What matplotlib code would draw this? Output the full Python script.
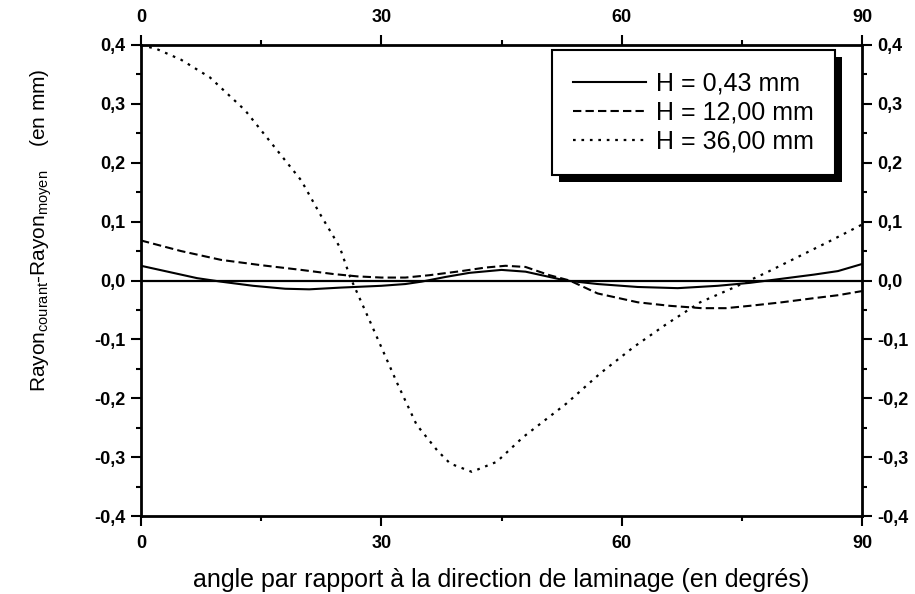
import numpy as np
import matplotlib
matplotlib.use("Agg")
from matplotlib import pyplot as plt
from matplotlib.ticker import MultipleLocator, FuncFormatter
from matplotlib.patches import Rectangle

plt.rcParams['font.family'] = ['Liberation Sans', 'DejaVu Sans']

# H = 0,43 mm
angle_h043 = [0, 3, 7, 10, 14, 18, 21, 25, 30, 33, 35, 38, 41, 45, 48, 51, 53,
              57, 62, 67, 72, 76, 80, 84, 87, 90]
ecart_h043 = [0.025, 0.016, 0.004, -0.002, -0.009, -0.014, -0.015, -0.012, -0.009,
              -0.006, -0.002, 0.006, 0.013, 0.018, 0.015, 0.006, 0.0,
              -0.006, -0.011, -0.013, -0.009, -0.004, 0.003, 0.010, 0.016, 0.028]

# H = 12,00 mm
angle_h12 = [0, 5, 10, 15, 20, 24, 27, 30, 33, 36, 40, 43, 45.5, 48, 51, 53.5,
             57, 62, 66, 70, 73, 76, 80, 84, 87, 90]
ecart_h12 = [0.068, 0.050, 0.035, 0.026, 0.018, 0.011, 0.007, 0.005, 0.005, 0.009,
             0.016, 0.022, 0.025, 0.023, 0.009, 0.0, -0.022, -0.037, -0.043,
             -0.047, -0.047, -0.043, -0.037, -0.030, -0.025, -0.018]

# H = 36,00 mm
angle_h36 = [0, 2, 5, 8.6, 13, 16, 20, 22.3, 24.8, 26.1, 28.6, 32, 34.4, 37, 38.6,
             41.3, 44.4, 47.7, 53.1, 57.3, 61.5, 65.6, 69.8, 74, 78, 82, 86, 90]
ecart_h36 = [0.400, 0.393, 0.375, 0.345, 0.289, 0.238, 0.170, 0.114, 0.057, 0.006,
             -0.070, -0.175, -0.245, -0.289, -0.311, -0.325, -0.308, -0.266,
             -0.209, -0.158, -0.113, -0.074, -0.037, -0.012, 0.013, 0.040,
             0.067, 0.095]

labels = ["H = 0,43 mm", "H = 12,00 mm", "H = 36,00 mm"]

fig = plt.figure(figsize=(9.15, 5.94), dpi=100)
ax = fig.add_axes([141 / 915, 1 - 516 / 594, 721 / 915, 471 / 594])

ax.axhline(0, color='black', lw=1.6, zorder=1)
ax.plot(angle_h043, ecart_h043, color='black', lw=1.5, ls='-', label=labels[0])
ax.plot(angle_h12, ecart_h12, color='black', lw=1.5, ls=(0, (4, 2)), label=labels[1])
ax.plot(angle_h36, ecart_h36, color='black', lw=1.6, ls=(0, (1.2, 2.6)), label=labels[2])

ax.set_xlim(0, 90)
ax.set_ylim(-0.4, 0.4)

comma = FuncFormatter(lambda v, p: f"{v:.1f}".replace('.', ','))
ax.xaxis.set_major_locator(MultipleLocator(30))
ax.xaxis.set_minor_locator(MultipleLocator(15))
ax.yaxis.set_major_locator(MultipleLocator(0.1))
ax.yaxis.set_minor_locator(MultipleLocator(0.05))
ax.yaxis.set_major_formatter(comma)

ax.tick_params(which='both', direction='out', top=True, right=True,
               labeltop=True, labelright=True, width=1.5, color='black')
ax.tick_params(which='major', length=7, labelsize=13)
ax.tick_params(which='minor', length=3.5)
ax.tick_params(axis='x', which='major', pad=7)
ax.tick_params(axis='y', which='major', pad=4)
for t in ax.xaxis.get_major_ticks() + ax.yaxis.get_major_ticks():
    t.label1.set_fontweight('bold')
    t.label2.set_fontweight('bold')
for sp in ax.spines.values():
    sp.set_linewidth(2.0)

ax.set_xlabel("angle par rapport à la direction de laminage (en degrés)",
              fontsize=18)
ax.xaxis.set_label_coords(0.5, -0.11)
ax.set_ylabel(r"Rayon$_{\mathregular{courant}}$-Rayon$_{\mathregular{moyen}}$    (en mm)",
              fontsize=15)
ax.yaxis.set_label_coords(-0.12, 0.607)

leg = ax.legend(loc='upper right', bbox_to_anchor=(0.9626, 0.989), fontsize=18,
                frameon=True, fancybox=False, handlelength=2.9, handletextpad=0.4,
                labelspacing=0.2, borderpad=0.85, borderaxespad=0,
                facecolor='white', framealpha=1)
leg.get_frame().set_edgecolor('black')
leg.get_frame().set_linewidth(1.5)
leg.set_zorder(10)

fig.canvas.draw()
bb = leg.get_window_extent()
shadow = Rectangle((bb.x0 + 7, bb.y0 - 7), bb.width, bb.height, transform=None,
                   facecolor='black', edgecolor='none', zorder=9)
ax.add_artist(shadow)

fig.savefig("out.png", dpi=100)
